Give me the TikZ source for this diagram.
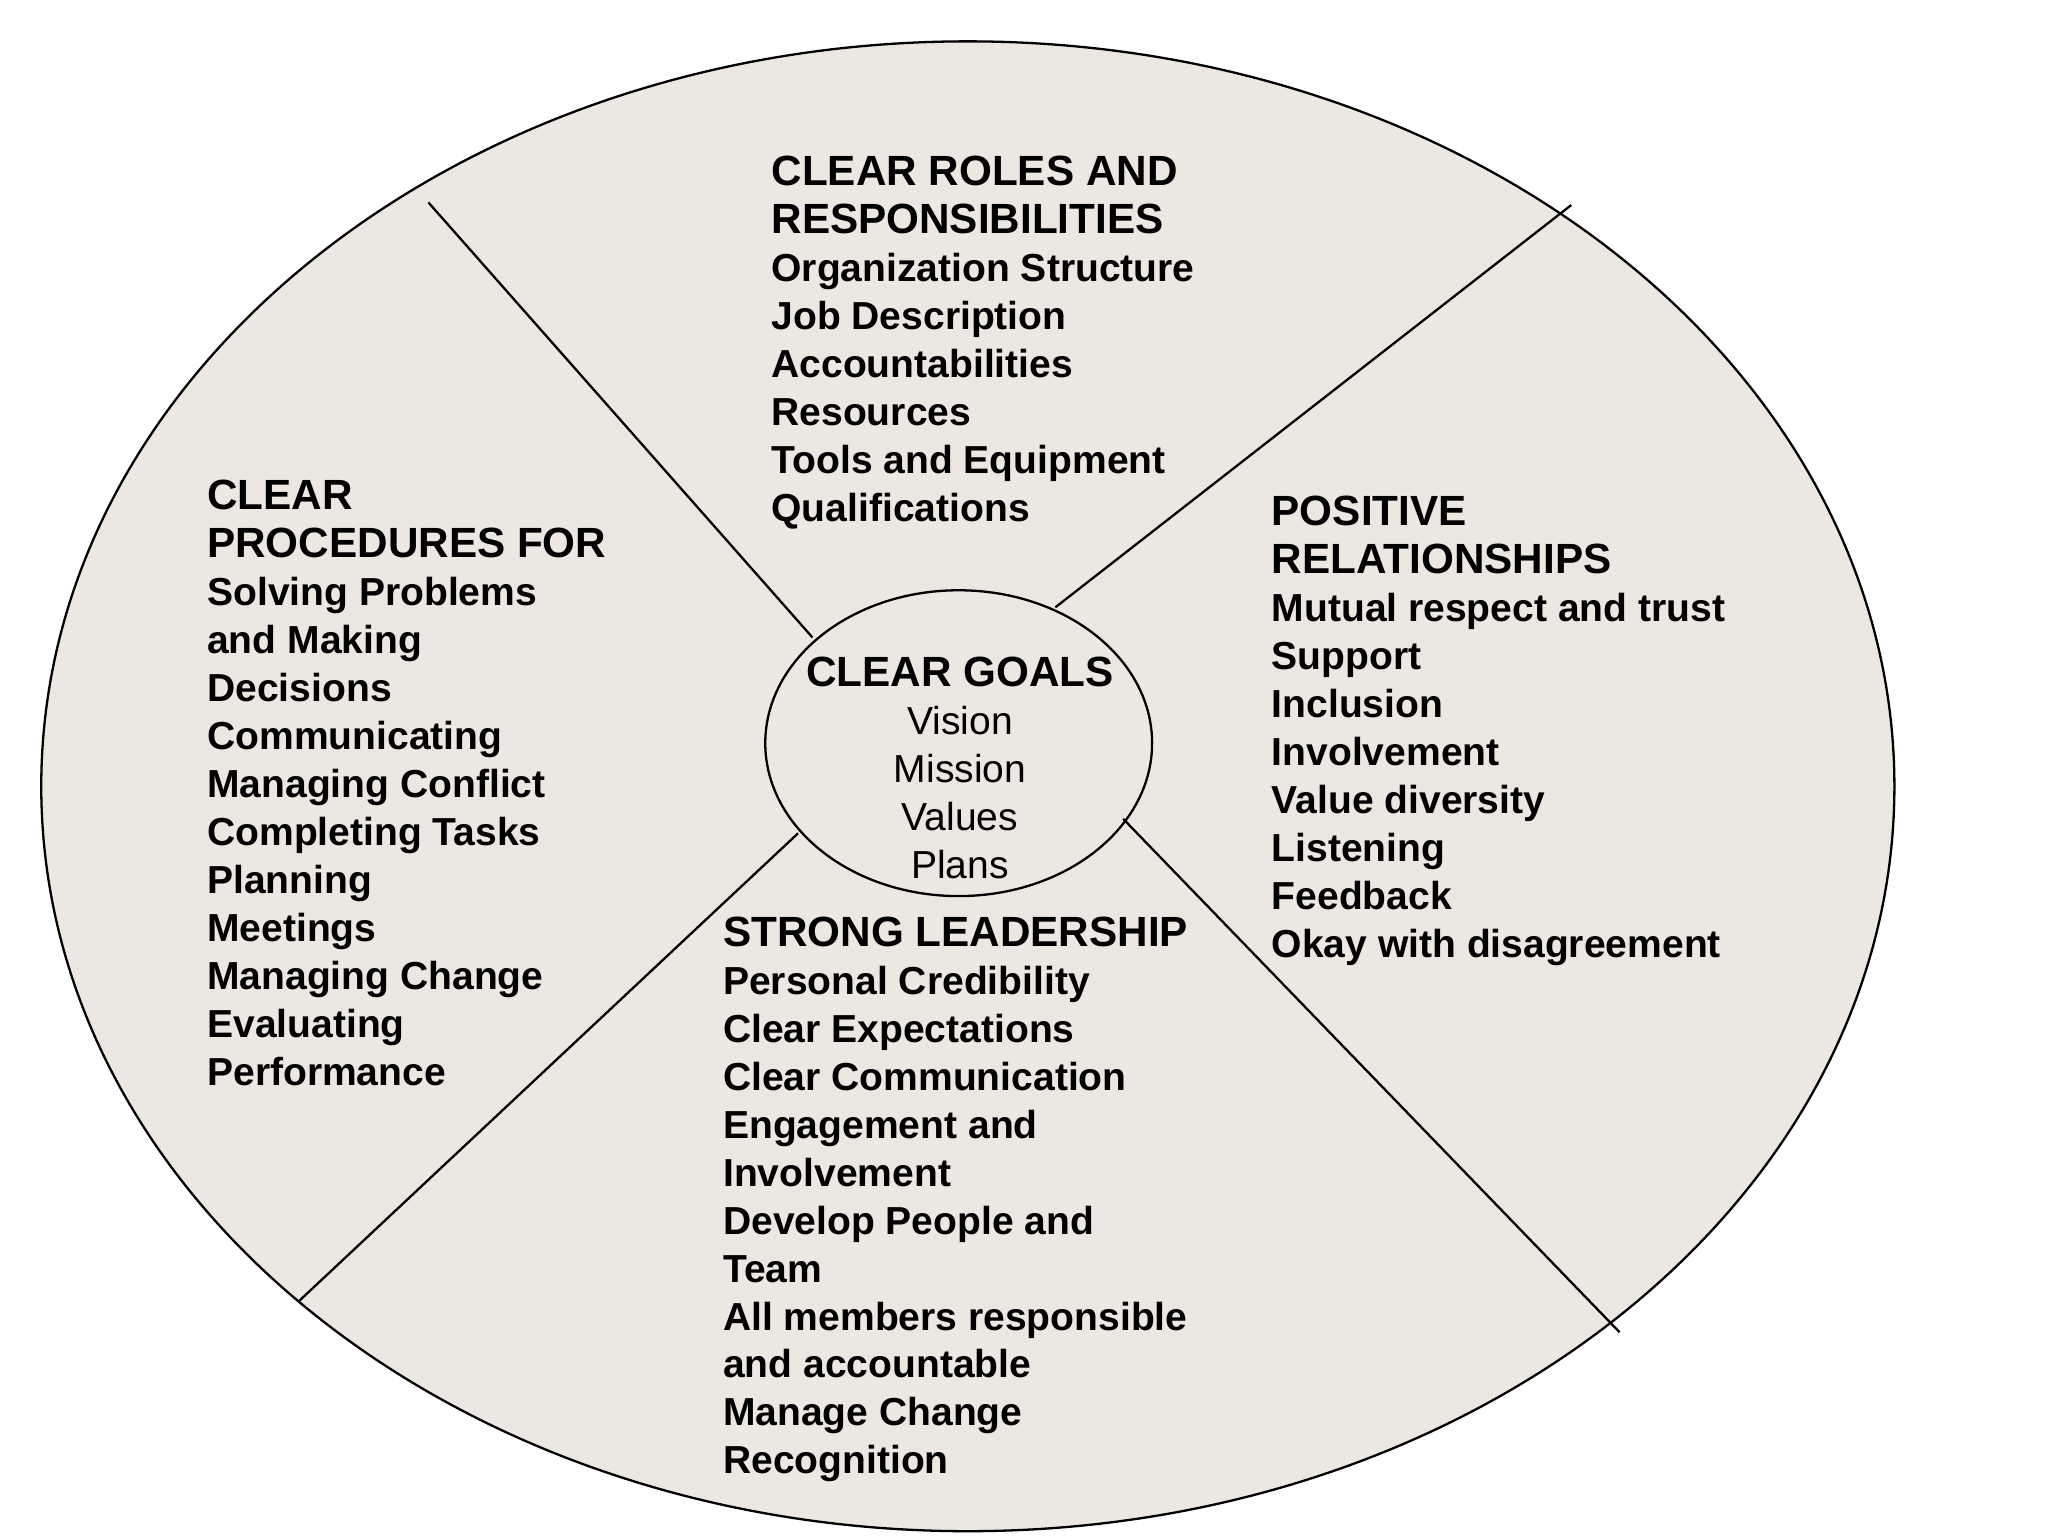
\documentclass[tikz,border=0pt]{standalone}
\usepackage{fontspec}
\setmainfont{Liberation Sans}
\usetikzlibrary{shapes.geometric}
\definecolor{bgc}{HTML}{ECE8E1}
\newcommand{\hf}{\fontsize{9.2pt}{11.1pt}\selectfont\bfseries}
\begin{document}
\begin{tikzpicture}[x=0.01cm,y=-0.01cm,
  blk/.style={anchor=north west,inner sep=0,align=left,font=\fontsize{8.5pt}{10.45pt}\selectfont\bfseries},
  sep/.style={draw=black,line width=0.5pt}]
\useasboundingbox (0,0) rectangle (1568,1176);
\draw[fill=bgc,line width=0.5pt] (741,602) ellipse [x radius=7.09cm,y radius=5.7cm];
\node[draw,fill=bgc,ellipse,minimum width=2.96cm,minimum height=2.34cm,inner sep=0,line width=0.5pt] (ctr) at (734,569) {};
\coordinate (a1) at (328,155); \coordinate (a2) at (622,488);
\coordinate (b1) at (1203,157); \coordinate (b2) at (808,465);
\coordinate (c1) at (611,638); \coordinate (c2) at (228,997);
\coordinate (d1) at (860,627); \coordinate (d2) at (1240,1020);
\draw[sep] (a1)--(a2); \draw[sep] (b1)--(b2); \draw[sep] (c1)--(c2); \draw[sep] (d1)--(d2);
\node[blk] (top) at (590,119) {{\hf CLEAR ROLES AND}\\{\hf RESPONSIBILITIES}\\Organization Structure\\Job Description\\Accountabilities\\Resources\\Tools and Equipment\\Qualifications};
\node[blk] (left) at (158,367) {{\hf CLEAR}\\{\hf PROCEDURES FOR}\\Solving Problems\\and Making\\Decisions\\Communicating\\Managing Conflict\\Completing Tasks\\Planning\\Meetings\\Managing Change\\Evaluating\\Performance};
\node[blk] (right) at (973,379) {{\hf POSITIVE}\\{\hf RELATIONSHIPS}\\Mutual respect and trust\\Support\\Inclusion\\Involvement\\Value diversity\\Listening\\Feedback\\Okay with disagreement};
\node[blk] (bot) at (553,701) {{\hf STRONG LEADERSHIP}\\Personal Credibility\\Clear Expectations\\Clear Communication\\Engagement and\\Involvement\\Develop People and\\Team\\All members responsible\\and accountable\\Manage Change\\Recognition};
\node[anchor=north,inner sep=0,align=center,font=\fontsize{8.5pt}{10.45pt}\selectfont] (goals) at (735,502) {{\hf CLEAR GOALS}\\Vision\\Mission\\Values\\Plans};
\end{tikzpicture}
\end{document}
